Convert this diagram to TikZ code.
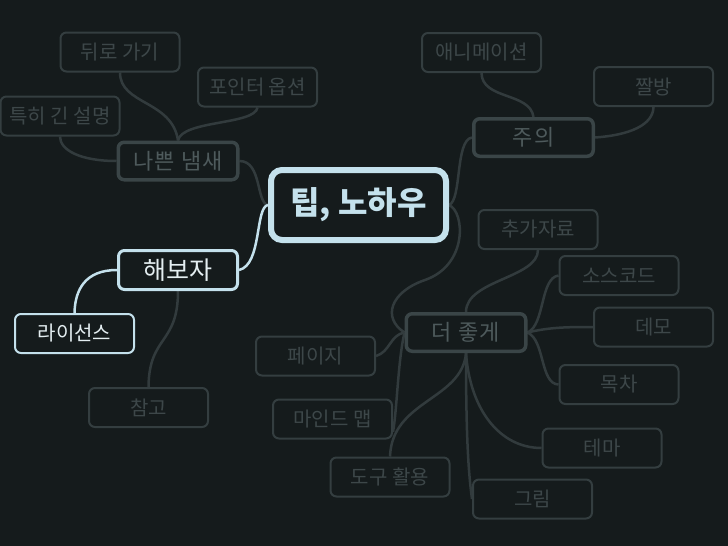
\documentclass[tikz,border=0pt]{standalone}
\usepackage{fontspec}
\setmainfont{Noto Sans CJK KR}
\definecolor{bg}{HTML}{151B1C}
\definecolor{dimline}{HTML}{343E40}
\definecolor{dimtext}{HTML}{3D4749}
\definecolor{midline}{HTML}{3A4547}
\definecolor{midtext}{HTML}{4E5A5C}
\definecolor{conn}{HTML}{323B3D}
\definecolor{lblue}{HTML}{C4E1EC}
\definecolor{ltext}{HTML}{E4EEF1}
\pgfdeclarelayer{bglayer}
\pgfdeclarelayer{lines}
\pgfsetlayers{bglayer,lines,main}
\begin{document}
\begin{tikzpicture}[x=1pt,y=-1pt,
  box/.style={draw, rounded corners=6pt, fill=bg, inner sep=0pt, minimum width=119pt, minimum height=39pt},
  leaf/.style={box, draw=dimline, line width=2pt, text=dimtext, font=\fontsize{20}{20}\selectfont},
  branch/.style={box, draw=midline, line width=3.5pt, text=midtext, minimum width=119.5pt, minimum height=37.5pt, font=\fontsize{22}{22}\selectfont\addfontfeature{LetterSpace=6}},
  centre/.style={box, draw=lblue, line width=6pt, rounded corners=11pt, text=lblue, minimum width=175pt, minimum height=70pt, font=\fontsize{32}{32}\selectfont\bfseries},
  trybox/.style={box, draw=lblue, line width=3pt, text=ltext, font=\fontsize{25}{25}\selectfont},
  licbox/.style={box, draw=lblue, line width=2pt, text=ltext, font=\fontsize{20}{20}\selectfont},
  dimconn/.style={draw=conn, line width=2.5pt},
  blueconn/.style={draw=lblue, line width=2.5pt}
]
\begin{pgfonlayer}{bglayer}
  \fill[bg] (0,0) rectangle (728,546);
\end{pgfonlayer}
\useasboundingbox (0,0) rectangle (728,546);

\node[centre] (c) at (358.5,205) {팁, 노하우};
\node[branch] (bad) at (178,161) {나쁜 냄새};
\node[leaf] (back) at (120,52) {뒤로 가기};
\node[leaf] (ptr) at (257.5,87) {포인터 옵션};
\node[leaf] (long) at (60,116) {특히 긴 설명};
\node[branch] (cau) at (533.5,137.5) {주의};
\node[leaf] (anim) at (481.5,52.5) {애니메이션};
\node[leaf] (zz) at (653.5,86.5) {짤방};
\node[trybox] (try) at (178,270) {해보자};
\node[licbox] (lic) at (74.5,333.5) {라이선스};
\node[leaf] (ref) at (148.5,407.5) {참고};
\node[branch] (bet) at (466,332.5) {더 좋게};
\node[leaf] (extra) at (538,229.5) {추가자료};
\node[leaf] (src) at (619,275.5) {소스코드};
\node[leaf] (demo) at (653.5,327) {데모};
\node[leaf] (toc) at (619,384.5) {목차};
\node[leaf] (theme) at (602,448) {테마};
\node[leaf] (pic) at (532.5,499) {그림};
\node[leaf] (page) at (315.5,356) {페이지};
\node[leaf] (mind) at (332.5,419) {마인드 맵};
\node[leaf] (tool) at (390,477) {도구 활용};

\begin{pgfonlayer}{lines}
  % centre
  \draw[dimconn] (bad.east) .. controls (262,161) and (256,203) .. (c.west);
  \draw[blueconn] (try.east) .. controls (262,265) and (255,207) .. (c.west);
  \draw[dimconn] (c.east) .. controls (462,200) and (455,140) .. (cau.west);
  \draw[dimconn] (c.east) .. controls (465,212) and (468,265) .. (425,280) .. controls (390,292) and (382,318) .. (bet.west);
  % bad smell
  \draw[dimconn] (back.south) .. controls (120,105) and (172,100) .. (bad.north);
  \draw[dimconn] (bad.north) .. controls (182,120) and (255,125) .. (ptr.south);
  \draw[dimconn] (bad.west) .. controls (80,161) and (60,150) .. (long.south);
  % caution
  \draw[dimconn] (cau.north) .. controls (530,92) and (482,100) .. (anim.south);
  \draw[dimconn] (cau.east) .. controls (630,135) and (653,125) .. (zz.south);
  % try
  \draw[blueconn] (try.west) .. controls (85,270) and (75,290) .. (lic.north);
  \draw[dimconn] (try.south) .. controls (178,345) and (149,335) .. (ref.north);
  % better
  \draw[dimconn] (extra.south) .. controls (538,278) and (466,280) .. (bet.north);
  \draw[dimconn] (bet.east) .. controls (545,325) and (540,278) .. (src.west);
  \draw[dimconn] (bet.east) .. controls (550,327) and (570,327) .. (demo.west);
  \draw[dimconn] (bet.east) .. controls (545,340) and (540,384) .. (toc.west);
  \draw[dimconn] (bet.south) .. controls (470,410) and (500,448) .. (theme.west);
  \draw[dimconn] (bet.south) .. controls (466,430) and (468,470) .. (pic.west);
  \draw[dimconn] (bet.south) .. controls (462,400) and (392,400) .. (tool.north);
  \draw[dimconn] (bet.west) .. controls (398,360) and (397,410) .. (mind.-12);
  \draw[dimconn] (bet.west) .. controls (390,335) and (390,352) .. (page.east);
\end{pgfonlayer}
\end{tikzpicture}
\end{document}
